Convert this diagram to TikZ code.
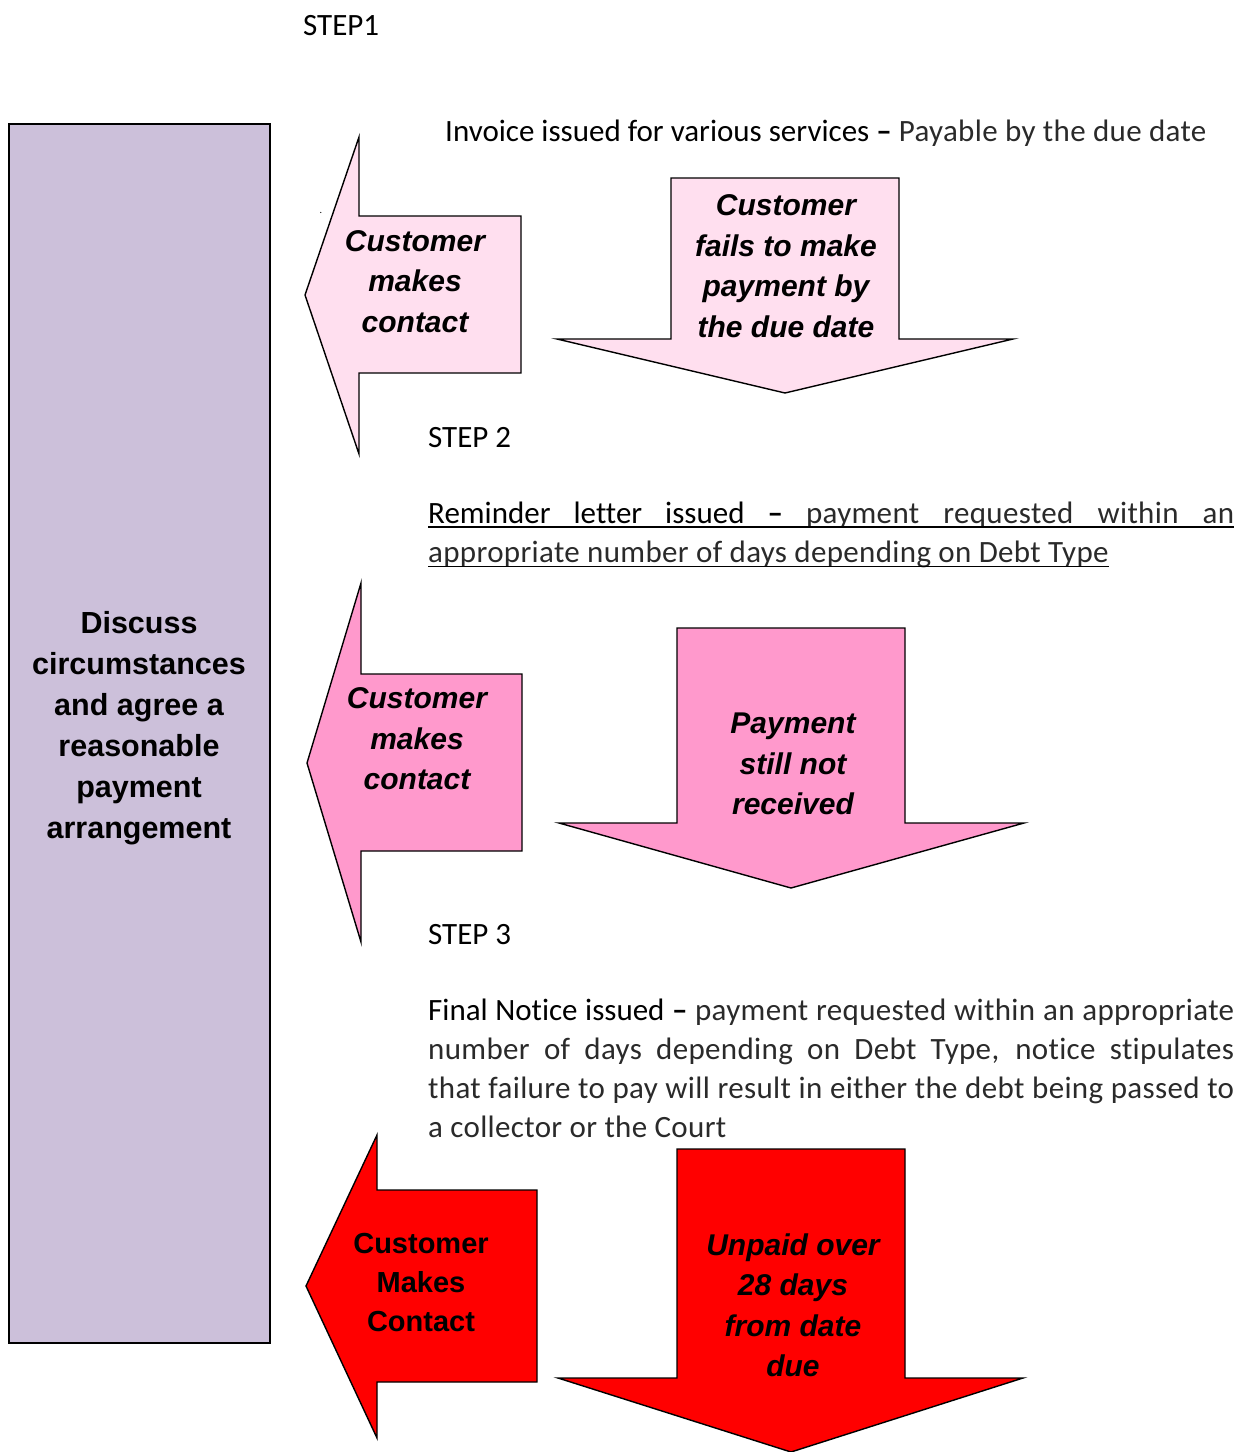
\documentclass[tikz,border=0pt]{standalone}
\usepackage{fontspec}
\setmainfont{Carlito}[Ligatures=NoCommon]
\newfontfamily\lightfont{Carlito}[Ligatures=NoCommon,LetterSpace=1.1]
\newfontfamily\arialfont{Liberation Sans}
\usetikzlibrary{calc}
\definecolor{lightpink}{HTML}{FFDFEF}
\definecolor{midpink}{HTML}{FF99CC}
\definecolor{lavender}{HTML}{CCC0DA}
\definecolor{lighttext}{HTML}{2A2A2A}
\newcommand{\lt}[1]{{\lightfont\color{lighttext}#1}}
\begin{document}
\begin{tikzpicture}[x=1pt,y=-1pt,
  shapeline/.style={draw=black,line width=1.4pt,line join=miter},
  arrowtxt/.style={align=center,inner sep=0pt,font=\arialfont\bfseries\itshape\fontsize{30}{40.5}\selectfont},
  redtxt/.style={align=center,inner sep=0pt,font=\arialfont\bfseries\fontsize{29}{39}\selectfont},
  purpletxt/.style={align=center,inner sep=0pt,font=\arialfont\bfseries\fontsize{30.5}{41}\selectfont},
  bodytxt/.style={anchor=base west,inner sep=0pt,font=\fontsize{31}{39}\selectfont},
  uline/.style={line width=1.5pt}]
\useasboundingbox (0,0) rectangle (1238,1452);

% left column box
\node[draw=black,line width=1.6pt,fill=lavender,minimum width=261pt,minimum height=1219pt,inner sep=0pt] (discussbox) at (139.5,733.5) {};
\node[purpletxt] (discuss) at (139,728) {Discuss\\circumstances\\and agree a\\reasonable\\payment\\arrangement};

% step 1
\node[bodytxt] (step1) at (303,35) {STEP1};
\node[bodytxt] (invoice) at (445,141.5) {Invoice issued for various services \textbf{–} \lt{Payable by the due date}};

\draw[shapeline,fill=lightpink] (305,295) -- (359,137) -- (359,216) -- (521,216) -- (521,373) -- (359,373) -- (359,454) -- cycle;
\node[arrowtxt] (contact1) at (415,281.5) {Customer\\makes\\contact};
\node[inner sep=0pt,font=\fontsize{10}{10}\selectfont] (dot) at (321,213) {.};

\draw[shapeline,fill=lightpink] (671,178) -- (899,178) -- (899,339) -- (1013,339) -- (785,393) -- (557,339) -- (671,339) -- cycle;
\node[arrowtxt] (fails) at (786,266) {Customer\\fails to make\\payment by\\the due date};

% step 2
\node[bodytxt] (step2) at (428,447) {STEP 2};
\node[bodytxt] (rem1) at (428,523) {\makebox[806pt][s]{Reminder letter issued \textbf{–} \lt{payment requested within an}}};
\node[bodytxt] (rem2) at (428,562) {\lt{appropriate number of days depending on Debt Type}};
\draw[uline] ($(rem1.base west)+(0,4)$) -- ($(rem1.base east)+(0,4)$);
\draw[uline] ($(rem2.base west)+(0,4.5)$) -- ($(rem2.base east)+(0,4.5)$);

\draw[shapeline,fill=midpink] (307,763) -- (361,583) -- (361,674) -- (522,674) -- (522,851) -- (361,851) -- (361,942) -- cycle;
\node[arrowtxt] (contact2) at (417,739) {Customer\\makes\\contact};

\draw[shapeline,fill=midpink] (677,628) -- (905,628) -- (905,823) -- (1024,823) -- (791,888) -- (559,823) -- (677,823) -- cycle;
\node[arrowtxt] (stillnot) at (793,764) {Payment\\still not\\received};

% step 3
\node[bodytxt] (step3) at (428,944) {STEP 3};
\node[bodytxt] (fin1) at (428,1020.5) {\makebox[806pt][s]{Final Notice issued \textbf{–} \lt{payment requested within an appropriate}}};
\node[bodytxt] (fin2) at (428,1059.5) {\lt{\makebox[806pt][s]{number of days depending on Debt Type, notice stipulates}}};
\node[bodytxt] (fin3) at (428,1098.5) {\lt{\makebox[806pt][s]{that failure to pay will result in either the debt being passed to}}};
\node[bodytxt] (fin4) at (428,1137.5) {\lt{a collector or the Court}};

\draw[shapeline,fill=red] (306,1286) -- (377,1135) -- (377,1190) -- (537,1190) -- (537,1382) -- (377,1382) -- (377,1438) -- cycle;
\node[redtxt] (contact3) at (421,1282) {Customer\\Makes\\Contact};

\draw[shapeline,fill=red] (677,1149) -- (905,1149) -- (905,1378) -- (1023,1378) -- (791,1452) -- (558,1378) -- (677,1378) -- cycle;
\node[arrowtxt] (unpaid) at (793,1305.5) {Unpaid over\\28 days\\from date\\due};
\end{tikzpicture}
\end{document}
